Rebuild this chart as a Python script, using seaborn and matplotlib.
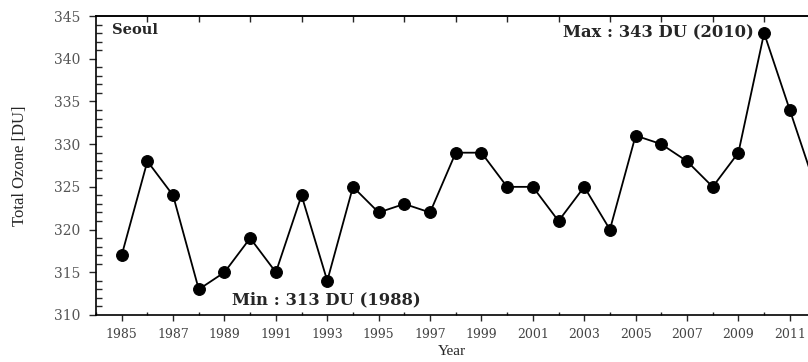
import matplotlib
matplotlib.use("Agg")
import matplotlib.pyplot as plt
import seaborn as sns
import pandas as pd
from matplotlib.ticker import MultipleLocator

years = [1985, 1986, 1987, 1988, 1989, 1990, 1991, 1992, 1993, 1994, 1995, 1996, 1997,
         1998, 1999, 2000, 2001, 2002, 2003, 2004, 2005, 2006, 2007, 2008, 2009, 2010,
         2011, 2012]
ozone = [317, 328, 324, 313, 315, 319, 315, 324, 314, 325, 322, 323, 322,
         329, 329, 325, 325, 321, 325, 320, 331, 330, 328, 325, 329, 343,
         334, 325]
xtick_labels = [str(y) for y in range(1985, 2012, 2)]
ytick_vals = list(range(310, 346, 5))

df = pd.DataFrame({"Year": years, "Ozone": ozone})

sns.set_style("ticks")
plt.rcParams['font.family'] = ['Liberation Serif', 'DejaVu Serif']

fig = plt.figure(figsize=(8.08, 3.62), dpi=100)
ax = fig.add_axes([96/808, 47/362, 1 - 96/808 + 0.001, (315-16)/362])

sns.lineplot(data=df, x="Year", y="Ozone", ax=ax, color="black", linewidth=1.3,
             marker="o", markersize=8.5, markeredgecolor="black", markerfacecolor="black")

ax.set_xlim(1984, 2011.74)
ax.set_ylim(310, 345)
ax.set_xticks(list(range(1985, 2012, 2)))
ax.set_xticklabels(xtick_labels, family='DejaVu Serif', fontsize=9, color='#444444')
ax.xaxis.set_minor_locator(MultipleLocator(1))
ax.set_yticks(ytick_vals)
ax.set_yticklabels([str(v) for v in ytick_vals], family='DejaVu Serif', fontsize=10, color='#555555')
ax.yaxis.set_minor_locator(MultipleLocator(1))

ax.tick_params(axis='y', which='major', direction='out', length=5, width=1, left=True, pad=6)
ax.tick_params(axis='y', which='minor', direction='in', length=4, width=1, left=True)
ax.tick_params(axis='x', which='major', direction='out', length=4, width=1, bottom=True, top=False, pad=5)
ax.tick_params(axis='x', which='minor', direction='in', length=2, width=1, bottom=True, top=False)
for s in ['left', 'bottom', 'top']:
    ax.spines[s].set_linewidth(1.2)
    ax.spines[s].set_color('black')
ax.spines['right'].set_visible(False)

sec = ax.secondary_xaxis('top')
sec.set_xticks(list(range(1986, 2012, 2)))
sec.set_xticklabels([])
sec.tick_params(axis='x', direction='in', length=4, width=1)
sec.spines['top'].set_linewidth(1.2)

ax.set_xlabel("Year", fontsize=11, labelpad=3)
ax.set_ylabel("Total Ozone [DU]", fontsize=12, labelpad=19)

ax.text(1984.61, 343.4, "Seoul", family='DejaVu Serif', fontsize=10.5, fontweight='bold', va='center', ha='left')
ax.text(1992.95, 311.76, "Min : 313 DU (1988)", family='DejaVu Serif', fontsize=11.8,
        fontweight='bold', va='center', ha='center')
ax.text(2009.6, 343, "Max : 343 DU (2010)", family='DejaVu Serif', fontsize=11.8,
        fontweight='bold', va='center', ha='right')

fig.savefig("out.png", dpi=100)
